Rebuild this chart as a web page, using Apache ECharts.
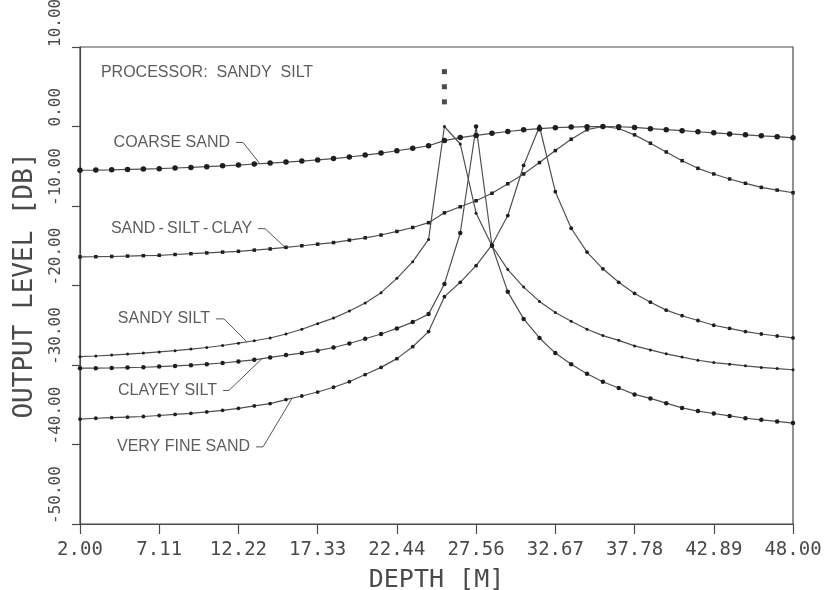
<!DOCTYPE html>
<html>
<head>
<meta charset="utf-8">
<script src="https://cdn.jsdelivr.net/npm/echarts@6/dist/echarts.min.js"></script>
<style>
html,body{margin:0;padding:0;background:#fff;}
#chart{width:838px;height:590px;}
</style>
</head>
<body>
<div id="chart"></div>
<script>
// Depth samples [m]
const depth = [2.000,3.022,4.044,5.067,6.089,7.111,8.133,9.156,10.178,11.200,
  12.222,13.244,14.267,15.289,16.311,17.333,18.356,19.378,20.400,21.422,
  22.444,23.467,24.489,25.511,26.533,27.556,28.578,29.600,30.622,31.644,
  32.667,33.689,34.711,35.733,36.756,37.778,38.800,39.822,40.844,41.867,
  42.889,43.911,44.933,45.956,46.978,48.000];

const coarseSand = [-5.5,-5.48,-5.45,-5.4,-5.35,-5.3,-5.22,-5.15,-5.05,-4.95,
  -4.85,-4.72,-4.6,-4.48,-4.35,-4.2,-4.04,-3.84,-3.6,-3.34,
  -3.05,-2.74,-2.42,-1.77,-1.39,-1.12,-0.86,-0.63,-0.42,-0.27,
  -0.15,-0.07,-0.02,0,-0.03,-0.12,-0.27,-0.4,-0.53,-0.66,
  -0.8,-0.93,-1.05,-1.17,-1.28,-1.42];

const sandSiltClay = [-16.4,-16.38,-16.35,-16.3,-16.25,-16.2,-16.1,-16.0,-15.9,-15.8,
  -15.7,-15.55,-15.4,-15.2,-15.0,-14.8,-14.6,-14.3,-14.0,-13.65,
  -13.2,-12.7,-12.1,-10.86,-10.1,-9.34,-8.4,-7.2,-5.97,-4.54,
  -3.03,-1.6,-0.4,0,-0.25,-1.05,-2.1,-3.2,-4.3,-5.26,
  -5.97,-6.6,-7.15,-7.66,-8.0,-8.33];

const sandySilt = [-28.95,-28.87,-28.75,-28.62,-28.5,-28.35,-28.2,-28.0,-27.8,-27.55,
  -27.25,-26.95,-26.6,-26.1,-25.5,-24.8,-24.1,-23.2,-22.2,-20.9,
  -19.1,-17.0,-14.2,0,-2.2,-10.9,-15.0,-18.0,-20.2,-22.0,
  -23.4,-24.5,-25.5,-26.3,-26.9,-27.6,-28.1,-28.6,-29.0,-29.4,
  -29.7,-29.9,-30.1,-30.3,-30.45,-30.6];

const clayeySilt = [-30.4,-30.4,-30.38,-30.33,-30.28,-30.2,-30.12,-30.02,-29.9,-29.75,
  -29.55,-29.35,-29.05,-28.75,-28.5,-28.2,-27.8,-27.3,-26.7,-26.1,
  -25.4,-24.6,-23.6,-19.8,-13.4,0,-15.0,-20.8,-24.2,-26.6,
  -28.5,-29.9,-31.1,-32.1,-32.9,-33.7,-34.2,-34.8,-35.4,-35.8,
  -36.1,-36.4,-36.7,-36.9,-37.1,-37.3];

const veryFineSand = [-36.8,-36.7,-36.62,-36.55,-36.48,-36.35,-36.22,-36.08,-35.9,-35.7,
  -35.45,-35.15,-34.85,-34.35,-33.9,-33.4,-32.8,-32.1,-31.2,-30.3,
  -29.2,-27.7,-25.8,-21.4,-19.6,-17.5,-14.9,-11.2,-4.9,0,
  -8.2,-12.8,-15.8,-17.9,-19.6,-21.0,-22.1,-23.1,-23.8,-24.4,
  -25.0,-25.4,-25.8,-26.1,-26.35,-26.6];

// processor marker (three squares above the sandy-silt peak)
const markerDepth = [25.511, 25.511, 25.511];
const markerLevel = [6.9, 5.0, 3.1];

const xTicks = [2.00,7.111,12.222,17.333,22.444,27.556,32.667,37.778,42.889,48.00];

// Curve labels: text, anchor (text right end) and leader polyline, in data coords
const labelTexts = ['COARSE SAND','SAND\u2009-\u2009SILT\u2009-\u2009CLAY','SANDY SILT','CLAYEY SILT','VERY FINE SAND'];
const labelAnchors = [[11.68,-2.0],[13.10,-12.85],[10.39,-24.2],[10.84,-33.2],[12.97,-40.3]];
const leaders = [
  [[12.06,-2.0],[12.52,-2.0],[13.6,-4.68]],
  [[13.48,-12.85],[13.94,-12.85],[15.23,-15.2]],
  [[10.77,-24.2],[11.29,-24.2],[12.77,-27.1]],
  [[11.23,-33.2],[11.61,-33.2],[13.74,-29.2]],
  [[13.35,-40.3],[13.81,-40.3],[15.68,-34.2]]
];
const titleText = 'PROCESSOR:  SANDY  SILT';
const titleAnchor = [3.35, 6.84];

const LINE = '#505050';
const MARK = '#1e1e1e';
const AXIS = '#4a4a4a';
const TXT = '#4a4a4a';
const mono = 'DejaVu Sans Mono';

function curve(name, ys, symbol, size) {
  return {
    name, type: 'line',
    data: depth.map((d, i) => [d, ys[i]]),
    symbol, symbolSize: size, showSymbol: true,
    lineStyle: {color: LINE, width: 1.2},
    itemStyle: {color: MARK},
    silent: true, z: 3
  };
}

const series = [
  curve('COARSE SAND', coarseSand, 'circle', 5.5),
  curve('SAND - SILT - CLAY', sandSiltClay, 'rect', 3.5),
  curve('SANDY SILT', sandySilt, 'circle', 3),
  curve('CLAYEY SILT', clayeySilt, 'circle', 4.5),
  curve('VERY FINE SAND', veryFineSand, 'circle', 3.8),
  {
    type: 'scatter', silent: true,
    data: markerDepth.map((d, i) => [d, markerLevel[i]]),
    symbol: 'rect', symbolSize: 5, itemStyle: {color: MARK}
  },
  {
    type: 'scatter', silent: true, symbolSize: 0,
    data: labelAnchors.map((a, i) => ({value: a, label: {formatter: labelTexts[i]}})),
    label: {show: true, position: 'left', distance: 0,
      fontFamily: 'Liberation Sans', fontSize: 16, color: '#333'}
  },
  {
    type: 'scatter', silent: true, symbolSize: 0,
    data: [{value: titleAnchor, label: {formatter: titleText}}],
    label: {show: true, position: 'right', distance: 0,
      fontFamily: 'Liberation Sans', fontSize: 16, color: '#333'}
  }
];
leaders.forEach(pts => series.push({
  type: 'line', data: pts, symbol: 'none', silent: true,
  lineStyle: {color: '#555', width: 1}, z: 2
}));

const chart = echarts.init(document.getElementById('chart'), null, {renderer: 'canvas'});
chart.setOption({
  animation: false,
  backgroundColor: '#fff',
  grid: {left: 80, right: 45, top: 47, bottom: 66, show: true,
    containLabel: false, outerBoundsMode: 'none',
    borderColor: AXIS, borderWidth: 1.2, backgroundColor: 'transparent'},
  xAxis: {
    type: 'value', min: 2, max: 48,
    name: 'DEPTH [M]', nameLocation: 'middle', nameGap: 44,
    nameTextStyle: {fontFamily: mono, fontSize: 25, color: TXT},
    axisLine: {show: true, onZero: false, lineStyle: {color: AXIS, width: 1.2}},
    axisTick: {show: true, length: 10, customValues: xTicks, lineStyle: {color: AXIS, width: 1.2}},
    axisLabel: {customValues: xTicks, margin: 17, fontFamily: mono, fontSize: 19, color: TXT,
      formatter: v => v.toFixed(2)},
    splitLine: {show: false}
  },
  yAxis: {
    type: 'value', min: -50, max: 10, interval: 10,
    name: 'OUTPUT LEVEL [DB]', nameLocation: 'middle', nameGap: 42, nameRotate: 90,
    nameTextStyle: {fontFamily: mono, fontSize: 26, color: TXT},
    axisLine: {show: true, onZero: false, lineStyle: {color: AXIS, width: 1.2}},
    axisTick: {show: true, length: 8, lineStyle: {color: AXIS, width: 1.2}},
    axisLabel: {rotate: 90, margin: 16, align: 'left', verticalAlign: 'bottom',
      fontFamily: mono, fontSize: 16, color: TXT,
      formatter: v => v.toFixed(2)},
    splitLine: {show: false}
  },
  series
});
</script>
</body>
</html>
